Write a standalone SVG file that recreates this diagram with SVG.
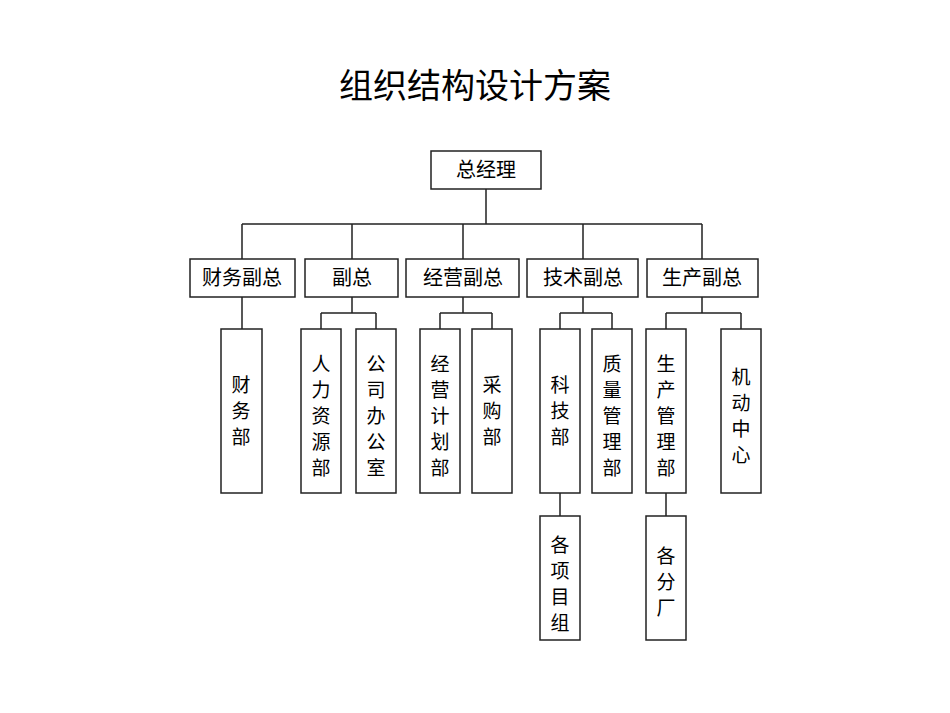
<svg xmlns="http://www.w3.org/2000/svg" width="950" height="713" viewBox="0 0 950 713">
<style>
rect{fill:#fff;stroke:#222;stroke-width:1.5}
text{font-family:"Noto Sans CJK SC",sans-serif;fill:#000;text-anchor:middle}
.t{font-size:20px}
.v{font-size:19px}
.c path{fill:none;stroke:#222;stroke-width:1.5}
</style>
<rect x="0" y="0" width="950" height="713" style="stroke:none"/>
<text x="475" y="98" style="font-size:34px">组织结构设计方案</text>
<g class="c">
<path d="M486 189V224M242 224H702M242 224V259M352 224V259M463 224V259M583 224V259M702 224V259"/>
<path d="M242 297V329M352 297V313M321 313H376M321 313V329M376 313V329"/>
<path d="M463 297V313M440 313H492M440 313V329M492 313V329"/>
<path d="M583 297V313M560 313H612M560 313V329M612 313V329"/>
<path d="M702 297V313M666 313H741M666 313V329M741 313V329"/>
<path d="M560 493V516M666 493V516"/>
</g>
<g id="n0"><rect x="431" y="151" width="110" height="38"/><text class="t" x="486" y="177">总经理</text></g>
<g id="n1"><rect x="190" y="259" width="105" height="38"/><text class="t" x="242" y="285">财务副总</text></g>
<g id="n2"><rect x="305" y="259" width="93" height="38"/><text class="t" x="352" y="285">副总</text></g>
<g id="n3"><rect x="406" y="259" width="113" height="38"/><text class="t" x="463" y="285">经营副总</text></g>
<g id="n4"><rect x="527" y="259" width="111" height="38"/><text class="t" x="583" y="285">技术副总</text></g>
<g id="n5"><rect x="647" y="259" width="111" height="38"/><text class="t" x="702" y="285">生产副总</text></g>
<g id="n6"><rect x="221" y="329" width="41" height="164"/><text class="v" x="241" y="392">财</text><text class="v" x="241" y="418">务</text><text class="v" x="241" y="444">部</text></g>
<g id="n7"><rect x="301" y="329" width="40" height="164"/><text class="v" x="321" y="371">人</text><text class="v" x="321" y="397">力</text><text class="v" x="321" y="423">资</text><text class="v" x="321" y="449">源</text><text class="v" x="321" y="475">部</text></g>
<g id="n8"><rect x="356" y="329" width="40" height="164"/><text class="v" x="376" y="371">公</text><text class="v" x="376" y="397">司</text><text class="v" x="376" y="423">办</text><text class="v" x="376" y="449">公</text><text class="v" x="376" y="475">室</text></g>
<g id="n9"><rect x="420" y="329" width="40" height="164"/><text class="v" x="440" y="371">经</text><text class="v" x="440" y="397">营</text><text class="v" x="440" y="423">计</text><text class="v" x="440" y="449">划</text><text class="v" x="440" y="475">部</text></g>
<g id="n10"><rect x="472" y="329" width="40" height="164"/><text class="v" x="492" y="392">采</text><text class="v" x="492" y="418">购</text><text class="v" x="492" y="444">部</text></g>
<g id="n11"><rect x="540" y="329" width="40" height="164"/><text class="v" x="560" y="392">科</text><text class="v" x="560" y="418">技</text><text class="v" x="560" y="444">部</text></g>
<g id="n12"><rect x="592" y="329" width="40" height="164"/><text class="v" x="612" y="371">质</text><text class="v" x="612" y="397">量</text><text class="v" x="612" y="423">管</text><text class="v" x="612" y="449">理</text><text class="v" x="612" y="475">部</text></g>
<g id="n13"><rect x="646" y="329" width="40" height="164"/><text class="v" x="666" y="371">生</text><text class="v" x="666" y="397">产</text><text class="v" x="666" y="423">管</text><text class="v" x="666" y="449">理</text><text class="v" x="666" y="475">部</text></g>
<g id="n14"><rect x="721" y="329" width="40" height="164"/><text class="v" x="741" y="384">机</text><text class="v" x="741" y="410">动</text><text class="v" x="741" y="436">中</text><text class="v" x="741" y="462">心</text></g>
<g id="n15"><rect x="540" y="516" width="40" height="124"/><text class="v" x="560" y="552">各</text><text class="v" x="560" y="578">项</text><text class="v" x="560" y="604">目</text><text class="v" x="560" y="630">组</text></g>
<g id="n16"><rect x="646" y="516" width="40" height="124"/><text class="v" x="666" y="563">各</text><text class="v" x="666" y="589">分</text><text class="v" x="666" y="615">厂</text></g>
</svg>
